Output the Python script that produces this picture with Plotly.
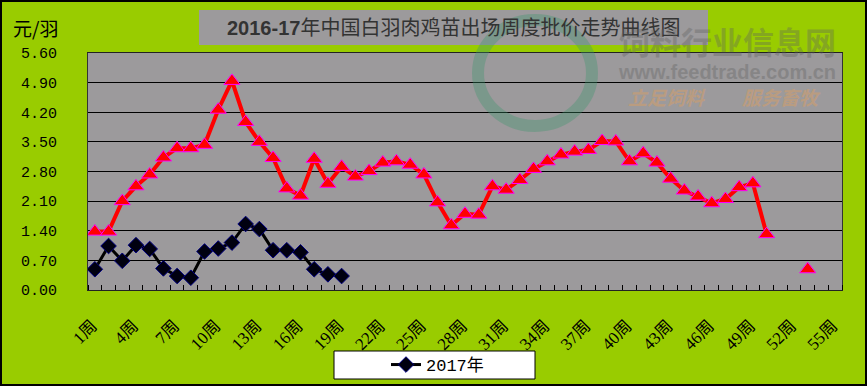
import plotly.graph_objects as go

# ---------------- data ----------------
weeks = list(range(1, 56))
week_labels = [f"{w}周" for w in weeks]
tick_weeks = weeks[::3]
tick_labels = [f"{w}周" for w in tick_weeks]

price_2016 = [1.38, 1.38, 2.10, 2.45, 2.73, 3.13, 3.35, 3.35, 3.43, 4.26,
              4.94, 3.97, 3.50, 3.12, 2.40, 2.23, 3.10, 2.51, 2.91, 2.68,
              2.81, 3.01, 3.04, 2.96, 2.73, 2.07, 1.53, 1.80, 1.78, 2.45,
              2.37, 2.60, 2.86, 3.04, 3.20, 3.27, 3.31, 3.52, 3.51, 3.04,
              3.23, 3.01, 2.63, 2.35, 2.21, 2.05, 2.15, 2.43, 2.52, 1.32,
              None, None, 0.49, None, None]
price_2017 = [0.49, 1.04, 0.69, 1.06, 0.97, 0.51, 0.33, 0.29, 0.91, 0.98,
              1.12, 1.56, 1.44, 0.94, 0.94, 0.89, 0.49, 0.37, 0.33]

y_ticks = [0.0, 0.7, 1.4, 2.1, 2.8, 3.5, 4.2, 4.9, 5.6]
title_text = "<b>2016-17</b>年中国白羽肉鸡苗出场周度批价走势曲线图"
unit_text = "元/羽"

# ---------------- layout geometry ----------------
W, H = 867, 386
L, R, T, B = 88, 842, 53, 290
LABEL_SHIFT = -0.2  # small horizontal nudge of rotated week labels


def px(x):
    return (x - L) / (R - L)


def py(y):
    return (B - y) / (B - T)


GREEN = "#99cc00"
GREY = "#9c9a9c"

fig = go.Figure()

fig.add_trace(go.Scatter(
    x=weeks, y=price_2016, mode="lines+markers", name="2016年",
    showlegend=False,
    line=dict(color="#ff0000", width=4),
    marker=dict(symbol="triangle-up", size=14, color="#ff0000",
                line=dict(color="#ff00ff", width=1)),
))
fig.add_trace(go.Scatter(
    x=weeks[:len(price_2017)], y=price_2017, mode="lines+markers", name="2017年",
    line=dict(color="#000000", width=3),
    marker=dict(symbol="diamond", size=12, color="#000010",
                line=dict(color="#000080", width=1)),
))

fig.update_layout(
    width=W, height=H,
    margin=dict(l=L, r=W - R, t=T, b=H - B, autoexpand=False),
    paper_bgcolor=GREEN,
    plot_bgcolor=GREY,
    font=dict(family="Liberation Serif, Noto Sans CJK SC", color="#000000"),
    showlegend=True,
    legend=dict(
        x=px(386), y=py(365), xanchor="left", yanchor="middle",
        bgcolor="rgba(0,0,0,0)", borderwidth=0,
        font=dict(size=17, family="Liberation Mono, Noto Sans CJK SC"),
    ),
    xaxis=dict(
        range=[0.5, 55.5], automargin=False,
        tickmode="array", tickvals=[w + LABEL_SHIFT for w in tick_weeks],
        ticktext=tick_labels,
        tickangle=-45, ticks="",
        tickfont=dict(size=17, family="Liberation Serif, Noto Sans CJK SC"),
        ticklabelstandoff=18,
        showgrid=False, zeroline=False,
        showline=True, linecolor="#222222", linewidth=1, mirror=True,
        minor=dict(ticks="inside", ticklen=5, tickcolor="#000000",
                   tickmode="linear", tick0=0.5, dtick=1, showgrid=False),
    ),
    yaxis=dict(
        range=[0, 5.6], automargin=False,
        tickmode="array", tickvals=y_ticks,
        tickformat=".2f", ticks="",
        tickfont=dict(size=15, family="Liberation Mono"),
        ticklabelstandoff=27,
        showgrid=True, gridcolor="#000000", gridwidth=1,
        zeroline=False,
        showline=True, linecolor="#333333", linewidth=1, mirror=True,
    ),
)

shapes = [
    # outer border
    dict(type="rect", xref="paper", yref="paper",
         x0=px(1), x1=px(W - 1), y0=py(H - 1), y1=py(1),
         line=dict(color="#000000", width=2), fillcolor="rgba(0,0,0,0)",
         layer="above"),
    # title box
    dict(type="rect", xref="paper", yref="paper",
         x0=px(199), x1=px(708), y0=py(45), y1=py(10),
         line=dict(width=0), fillcolor=GREY, layer="below"),
    # legend box
    dict(type="rect", xref="paper", yref="paper",
         x0=px(334), x1=px(535), y0=py(379), y1=py(351),
         line=dict(color="#000000", width=1), fillcolor="#ffffff",
         layer="below"),
    # watermark logo ring
    dict(type="circle", xref="paper", yref="paper",
         x0=px(478), x1=px(592), y0=py(126), y1=py(20),
         line=dict(color="rgba(60,150,110,0.35)", width=12),
         fillcolor="rgba(0,0,0,0)", layer="above"),
]
fig.update_layout(shapes=shapes)

annotations = [
    dict(text=title_text, xref="paper", yref="paper", x=px(453.5), y=py(27.5),
         xanchor="center", yanchor="middle", showarrow=False,
         font=dict(size=20, color="#333333",
                   family="Liberation Sans, Noto Sans CJK SC")),
    dict(text=unit_text, xref="paper", yref="paper", x=px(11), y=py(27),
         xanchor="left", yanchor="middle", showarrow=False,
         font=dict(size=19, color="#000000", family="Noto Sans CJK SC")),
    # watermark
    dict(text="<b>饲料行业信息网</b>", xref="paper", yref="paper",
         x=px(727), y=py(40), xanchor="center", yanchor="middle",
         showarrow=False, opacity=0.35,
         font=dict(size=31, color="#606060", family="Noto Sans CJK SC")),
    dict(text="<b>www.feedtrade.com.cn</b>", xref="paper", yref="paper",
         x=px(727), y=py(72), xanchor="center", yanchor="middle",
         showarrow=False, opacity=0.35,
         font=dict(size=20, color="#606060", family="Liberation Sans")),
    dict(text="<b><i>立足饲料　　服务畜牧</i></b>", xref="paper", yref="paper",
         x=px(724), y=py(97), xanchor="center", yanchor="middle",
         showarrow=False, opacity=0.45,
         font=dict(size=19, color="#e0a060", family="Noto Sans CJK SC")),
]
fig.update_layout(annotations=annotations)

fig.write_html("out.html",
               config={"displayModeBar": False},
               post_script="document.body.style.margin='0';"
                           "document.body.style.overflow='hidden';")
